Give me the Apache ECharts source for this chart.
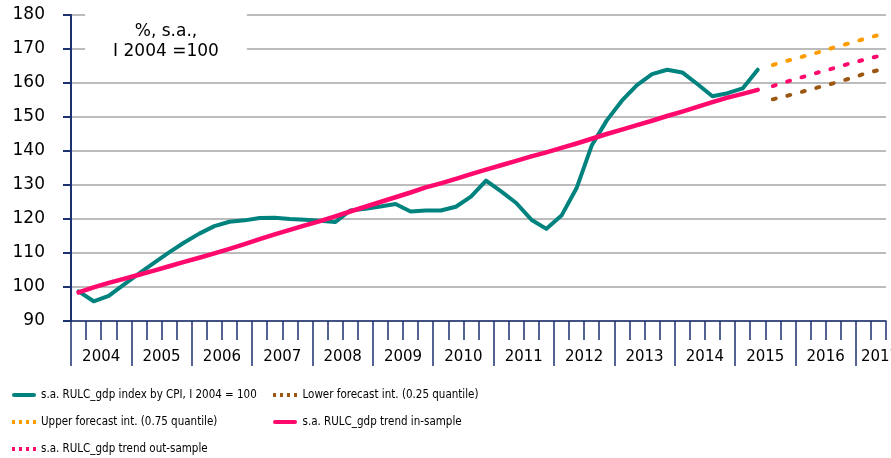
<!DOCTYPE html>
<html>
<head>
<meta charset="utf-8">
<script src="https://cdn.jsdelivr.net/npm/echarts@6.0.0/dist/echarts.min.js"></script>
<style>
html, body { margin: 0; padding: 0; background: #fff; }
#main { width: 891px; height: 458px; }
</style>
</head>
<body>
<div id="main"></div>
<script>
// quarterly axis 2004Q1 .. 2017Q2
var yearLabels = ['2004', '2005', '2006', '2007', '2008', '2009', '2010', '2011', '2012', '2013', '2014', '2015', '2016', '2017']
var quarters = []
yearLabels.forEach(function (y) {
  ['Q1', 'Q2', 'Q3', 'Q4'].forEach(function (q) { quarters.push(y + q) })
})
quarters = quarters.slice(0, 54)

// s.a. RULC_gdp index by CPI (2004Q1 .. 2015Q2)
var rulcIndex = [98.7, 95.8, 97.4, 100.7, 103.9, 107.1, 110.2, 113.1, 115.7, 117.9, 119.2, 119.6,
  120.3, 120.4, 120.0, 119.8, 119.5, 119.1, 122.5, 123.0, 123.7, 124.4, 122.2, 122.5,
  122.5, 123.6, 126.6, 131.3, 128.1, 124.7, 119.8, 117.1, 121.0, 129.1, 141.6, 149.0,
  154.8, 159.4, 162.6, 163.9, 163.1, 159.7, 156.1, 157.0, 158.4, 163.9]
// trend in-sample (2004Q1 .. 2015Q2)
var trendIn = [98.4, 99.9, 101.2, 102.4, 103.6, 104.8, 106.1, 107.4, 108.6, 109.9, 111.2, 112.6,
  114.1, 115.5, 116.8, 118.1, 119.4, 120.8, 122.2, 123.6, 125.0, 126.4, 127.8, 129.3,
  130.5, 131.8, 133.2, 134.5, 135.8, 137.1, 138.4, 139.6, 140.9, 142.2, 143.6, 145.0,
  146.3, 147.6, 148.9, 150.3, 151.6, 153.0, 154.4, 155.7, 156.8, 158.0]
// forecast part (2015Q3 .. 2017Q2)
var trendOut = [159.1, 160.5, 161.8, 163.1, 164.3, 165.6, 166.8, 167.9]
var upperQ = [165.3, 166.6, 167.8, 169.0, 170.4, 171.6, 172.9, 174.1]
var lowerQ = [155.2, 156.3, 157.5, 158.7, 159.9, 161.2, 162.6, 163.8]

var forecastStart = 46
var yearTicks = [0, 4, 8, 12, 16, 20, 24, 28, 32, 36, 40, 44, 48, 52]
var yearLabelPos = [2, 6, 10, 14, 18, 22, 26, 30, 34, 38, 42, 46, 50, 53.6]

var navy = '#1b3272'
var teal = '#00837e'
var pink = '#ff0a6c'
var orange = '#ff9c00'
var brown = '#9c5812'
var font = 'DejaVu Sans'
var legendFont = "'DejaVu Sans Condensed', sans-serif"

function pad(arr) {
  return new Array(forecastStart).fill('-').concat(arr)
}

var lineIcon = 'path://M2,0h20a2,2 0 0 1 0,4h-20a2,2 0 0 1 0,-4z'
var dotIcon = 'path://M0,0h3v4h-3zM7,0h3v4h-3zM14,0h3v4h-3zM21,0h3v4h-3z'

var names = {
  idx: 's.a. RULC_gdp index by CPI, I 2004 = 100',
  low: 'Lower forecast int. (0.25 quantile)',
  up: 'Upper forecast int. (0.75 quantile)',
  tin: 's.a. RULC_gdp trend in-sample',
  tout: 's.a. RULC_gdp trend out-sample',
}

var legendBase = {
  top: 389,
  orient: 'vertical',
  padding: 0,
  itemHeight: 4,
  itemGap: 15,
  textStyle: { fontFamily: legendFont, fontSize: 11.5, color: '#000' },
}

var myChart = echarts.init(document.getElementById('main'))
myChart.setOption({
  animation: false,
  grid: { left: 71, right: 5, top: 15, height: 306, outerBoundsMode: 'none', containLabel: false },
  graphic: [
    {
      type: 'text',
      x: 166,
      y: 12,
      z: 10,
      style: {
        text: '%, s.a.,\nI 2004 =100',
        fontFamily: font,
        fontSize: 17,
        lineHeight: 20,
        fill: '#000',
        align: 'center',
        verticalAlign: 'top',
        backgroundColor: '#fff',
        padding: [10, 28, 2, 28],
      },
    },
  ],
  legend: [
    Object.assign({}, legendBase, {
      left: 12,
      itemWidth: 24,
      data: [
        { name: names.idx, icon: lineIcon },
        { name: names.up, icon: dotIcon },
        { name: names.tout, icon: dotIcon },
      ],
    }),
    Object.assign({}, legendBase, {
      left: 273,
      itemWidth: 25,
      data: [
        { name: names.low, icon: dotIcon },
        { name: names.tin, icon: lineIcon },
      ],
    }),
  ],
  xAxis: [
    {
      type: 'category',
      data: quarters,
      boundaryGap: true,
      axisLine: { onZero: false, lineStyle: { color: navy, width: 1.5 } },
      axisTick: { show: true, interval: 0, length: 19, lineStyle: { color: navy, width: 1.5 } },
      axisLabel: { show: false },
      splitLine: { show: false },
    },
    {
      type: 'value',
      min: 0,
      max: 54,
      position: 'bottom',
      axisLine: { show: false, onZero: false },
      axisTick: { show: true, customValues: yearTicks, length: 45, lineStyle: { color: navy, width: 1.5 } },
      axisLabel: {
        customValues: yearLabelPos,
        formatter: function (v) { return yearLabels[Math.floor(v / 4)] },
        margin: 29,
        fontFamily: font,
        fontSize: 15,
        color: '#000',
      },
      splitLine: { show: false },
    },
  ],
  yAxis: {
    type: 'value',
    min: 90,
    max: 180,
    interval: 10,
    axisLine: { show: true, onZero: false, lineStyle: { color: navy, width: 2 } },
    axisTick: { show: true, length: 8, lineStyle: { color: navy, width: 2 } },
    axisLabel: { margin: 26, fontFamily: font, fontSize: 17, color: '#000' },
    splitLine: { lineStyle: { color: '#a6a6a6', width: 1.5 } },
  },
  series: [
    {
      name: names.idx,
      type: 'line',
      data: rulcIndex,
      symbol: 'none',
      itemStyle: { color: teal },
      lineStyle: { color: teal, width: 4, cap: 'round', join: 'round' },
      z: 3,
    },
    {
      name: names.low,
      type: 'line',
      data: pad(lowerQ),
      symbol: 'none',
      itemStyle: { color: brown },
      lineStyle: { color: brown, width: 4, type: [3, 12], cap: 'round' },
      z: 3,
    },
    {
      name: names.up,
      type: 'line',
      data: pad(upperQ),
      symbol: 'none',
      itemStyle: { color: orange },
      lineStyle: { color: orange, width: 4, type: [3, 12], cap: 'round' },
      z: 3,
    },
    {
      name: names.tin,
      type: 'line',
      data: trendIn,
      symbol: 'none',
      itemStyle: { color: pink },
      lineStyle: { color: pink, width: 4.5, cap: 'round', join: 'round' },
      z: 4,
    },
    {
      name: names.tout,
      type: 'line',
      data: pad(trendOut),
      symbol: 'none',
      itemStyle: { color: pink },
      lineStyle: { color: pink, width: 4, type: [3, 12], cap: 'round' },
      z: 4,
    },
  ],
})
</script>
</body>
</html>
